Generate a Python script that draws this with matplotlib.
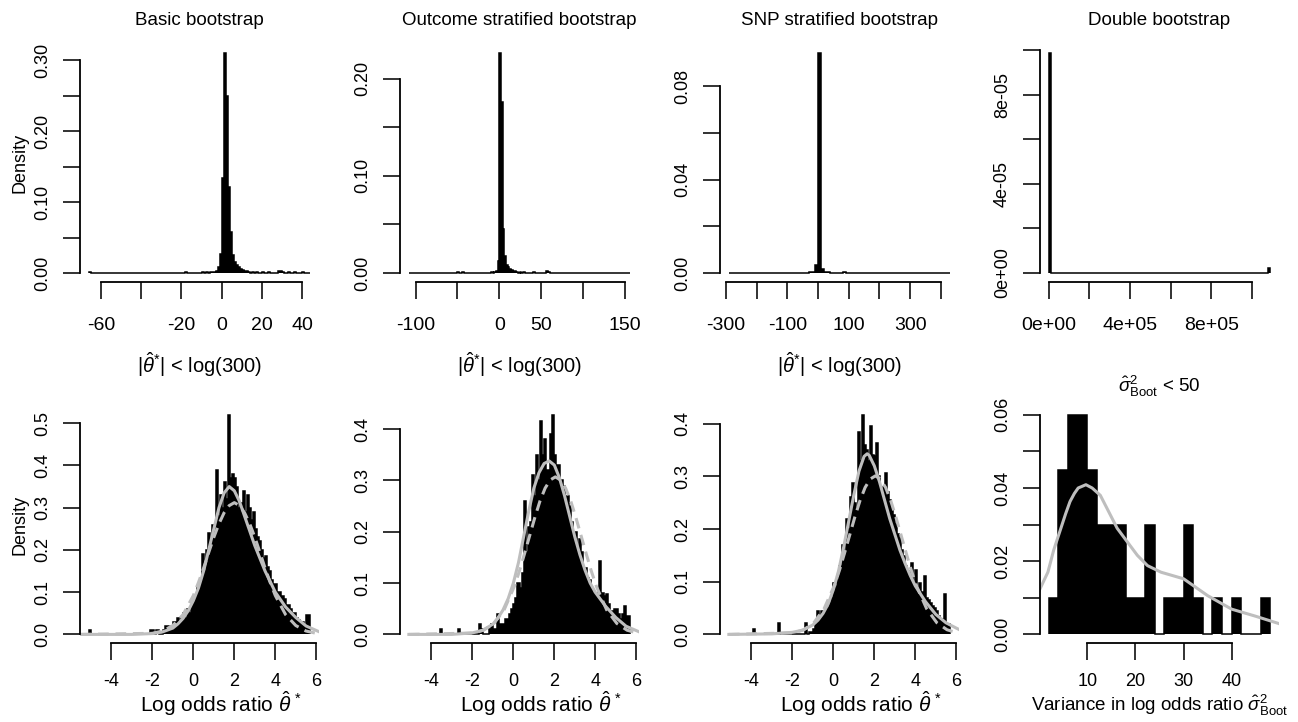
import numpy as np
import matplotlib
matplotlib.use('Agg')
import matplotlib.pyplot as plt

plt.rcParams['font.family'] = 'Liberation Sans'
plt.rcParams['mathtext.fontset'] = 'custom'
plt.rcParams['mathtext.rm'] = 'Liberation Sans'
plt.rcParams['mathtext.it'] = 'Liberation Sans:italic'
plt.rcParams['mathtext.bf'] = 'Liberation Sans:bold'

# ---------------- data ----------------
# top row: whole bootstrap distributions (density histograms)
basic_range = (-66, 44)
basic_width = 1
basic_start = -3
basic_dense = [0.003, 0.008, 0.027, 0.134, 0.31, 0.25, 0.122, 0.058, 0.025,
               0.015, 0.012, 0.008, 0.006, 0.004, 0.003, 0.003, 0.002]
basic_tail_lefts = [-66, -18, -10, -8, -6, -5, -4, 15, 17, 20, 23, 28, 29, 30, 33, 36, 40]
basic_tail_heights = [0.002, 0.002, 0.001, 0.001, 0.002, 0.001, 0.002, 0.002, 0.002,
                      0.001, 0.001, 0.003, 0.003, 0.002, 0.001, 0.002, 0.001]

outcome_range = (-108, 156)
outcome_width = 2
outcome_start = -6
outcome_dense = [0.001, 0.002, 0.012, 0.226, 0.176, 0.045, 0.017, 0.008, 0.006,
                 0.004, 0.003, 0.002, 0.002, 0.001]
outcome_tail_lefts = [-50, -44, -34, -20, -10, 24, 28, 40, 56, 58, 66]
outcome_tail_heights = [0.001, 0.001, 0.0005, 0.0005, 0.001, 0.001, 0.001, 0.001,
                        0.002, 0.001, 0.0005]

snp_range = (-290, 430)
snp_width = 10
snp_start = -30
snp_dense = [0.0003, 0.0005, 0.0036, 0.094, 0.0016, 0.0006, 0.0003, 0.0002]
snp_tail_lefts = [-70, 60, 80, 130]
snp_tail_heights = [0.0001, 0.0002, 0.0003, 0.0001]

double_range = (0, 1.09e6)
double_width = 1e4
double_start = 0
double_dense = [9.86e-5]
double_tail_lefts = [1.08e6]
double_tail_heights = [2.2e-6]

# bottom row: truncated distributions, bins of 0.1 on (-5.1, 5.7)
trunc_range = (-5.1, 5.7)
trunc_width = 0.1

basic_t_start = -2.1
basic_t_dense = [0.01, 0.01, 0.0, 0.01, 0.0, 0.0, 0.01, 0.02, 0.02, 0.01,
                 0.02, 0.03, 0.03, 0.04, 0.03, 0.04, 0.05, 0.04, 0.06, 0.05,
                 0.07, 0.08, 0.09, 0.11, 0.13, 0.19, 0.15, 0.20, 0.24, 0.22,
                 0.26, 0.25, 0.39, 0.28, 0.33, 0.30, 0.36, 0.32, 0.52, 0.37,
                 0.38, 0.37, 0.35, 0.30, 0.31, 0.34, 0.29, 0.33, 0.30, 0.27,
                 0.29, 0.25, 0.23, 0.22, 0.20, 0.18, 0.185, 0.16, 0.15, 0.13,
                 0.12, 0.12, 0.10, 0.10, 0.09, 0.085, 0.07, 0.07, 0.06, 0.05,
                 0.05, 0.04, 0.035, 0.03, 0.03, 0.02, 0.045, 0.045]
basic_t_tail_lefts = [-5.1]
basic_t_tail_heights = [0.01]

outcome_t_start = -2.0
outcome_t_dense = [0.0, 0.0, 0.0, 0.02, 0.01, 0.0, 0.0, 0.0, 0.01, 0.02,
                   0.01, 0.01, 0.04, 0.02, 0.02, 0.02, 0.03, 0.03, 0.04, 0.05,
                   0.06, 0.07, 0.10, 0.09, 0.12, 0.26, 0.16, 0.21, 0.22, 0.31,
                   0.27, 0.35, 0.30, 0.415, 0.35, 0.38, 0.32, 0.32, 0.39, 0.428,
                   0.35, 0.33, 0.33, 0.30, 0.29, 0.27, 0.27, 0.25, 0.22, 0.20,
                   0.20, 0.17, 0.185, 0.16, 0.13, 0.13, 0.11, 0.107, 0.09, 0.08,
                   0.08, 0.07, 0.143, 0.08, 0.075, 0.078, 0.06, 0.045, 0.045, 0.05,
                   0.05, 0.04, 0.03, 0.04, 0.055, 0.035, 0.035]
outcome_t_tail_lefts = [-3.6, -2.7]
outcome_t_tail_heights = [0.01, 0.01]

snp_t_start = -1.5
snp_t_dense = [0.0, 0.022, 0.0, 0.005, 0.005, 0.01, 0.02, 0.044, 0.03, 0.044,
               0.044, 0.05, 0.05, 0.06, 0.07, 0.098, 0.09, 0.104, 0.13, 0.17,
               0.15, 0.22, 0.20, 0.26, 0.288, 0.25, 0.24, 0.385, 0.33, 0.417,
               0.36, 0.35, 0.33, 0.395, 0.34, 0.338, 0.363, 0.30, 0.275, 0.28,
               0.306, 0.27, 0.256, 0.24, 0.227, 0.21, 0.19, 0.183, 0.16, 0.148,
               0.13, 0.12, 0.114, 0.136, 0.10, 0.123, 0.09, 0.098, 0.08, 0.11,
               0.07, 0.066, 0.06, 0.054, 0.05, 0.045, 0.035, 0.03, 0.03, 0.076,
               0.02, 0.02]
snp_t_tail_lefts = [-3.9, -2.7]
snp_t_tail_heights = [0.011, 0.022]

# smoothed densities (grey solid) and normal fits (grey dashed)
basic_kde_x = [-5.5, -3, -2, -1.5, -1, -0.75, -0.5, -0.25, 0, 0.25, 0.5, 0.75, 1.0,
               1.25, 1.5, 1.75, 2.0, 2.25, 2.5, 2.75, 3.0, 3.25, 3.5, 3.75, 4.0,
               4.5, 5.0, 5.5, 6.2]
basic_kde_y = [0.0, 0.0, 0.002, 0.006, 0.015, 0.025, 0.038, 0.056, 0.08, 0.11, 0.15,
               0.20, 0.25, 0.30, 0.335, 0.35, 0.34, 0.315, 0.28, 0.245, 0.21, 0.18,
               0.15, 0.125, 0.10, 0.065, 0.04, 0.02, 0.005]
basic_norm_x = [-5.5, -2.0, -1.5, -1.0, -0.5, 0.0, 0.25, 0.5, 0.75, 1.0, 1.25, 1.5,
                1.75, 2.0, 2.25, 2.5, 2.75, 3.0, 3.25, 3.5, 3.75, 4.0, 4.5, 5.0,
                5.5, 6.0, 6.5]
basic_norm_y = [0.0, 0.0026, 0.008, 0.021, 0.047, 0.092, 0.123, 0.157, 0.194, 0.230,
                0.262, 0.288, 0.305, 0.312, 0.305, 0.288, 0.262, 0.230, 0.194,
                0.157, 0.123, 0.092, 0.047, 0.021, 0.008, 0.0026, 0.0]

outcome_kde_x = [-5.1, -3, -2, -1.5, -1, -0.75, -0.5, -0.25, 0, 0.25, 0.5, 0.75, 1.0,
                 1.25, 1.5, 1.75, 2.0, 2.25, 2.5, 2.75, 3.0, 3.25, 3.5, 3.75, 4.0,
                 4.5, 5.0, 5.5, 6.2]
outcome_kde_y = [0.0, 0.0, 0.003, 0.008, 0.02, 0.032, 0.048, 0.07, 0.10, 0.14, 0.19,
                 0.24, 0.285, 0.315, 0.333, 0.338, 0.33, 0.305, 0.27, 0.23, 0.19,
                 0.155, 0.125, 0.10, 0.082, 0.055, 0.033, 0.016, 0.004]
outcome_norm_x = [-5.1, -1.95, -1.45, -0.95, -0.45, 0.05, 0.3, 0.55, 0.8, 1.05, 1.3,
                  1.55, 1.8, 2.05, 2.3, 2.55, 2.8, 3.05, 3.3, 3.55, 3.8, 4.05, 4.55,
                  5.05, 5.55, 6.05, 6.5]
outcome_norm_y = [0.0, 0.0027, 0.0082, 0.0214, 0.048, 0.094, 0.124, 0.158, 0.193,
                  0.228, 0.260, 0.285, 0.301, 0.307, 0.301, 0.285, 0.260, 0.228,
                  0.193, 0.158, 0.124, 0.094, 0.048, 0.0214, 0.0082, 0.0027, 0.0]

snp_kde_x = [-5.1, -3, -2, -1.5, -1, -0.75, -0.5, -0.25, 0, 0.25, 0.5, 0.75, 1.0,
             1.25, 1.5, 1.65, 1.75, 2.0, 2.25, 2.5, 2.75, 3.0, 3.25, 3.5, 3.75,
             4.0, 4.5, 5.0, 5.5, 6.2]
snp_kde_y = [0.0, 0.001, 0.004, 0.008, 0.018, 0.027, 0.04, 0.058, 0.085, 0.12, 0.165,
             0.215, 0.265, 0.31, 0.338, 0.343, 0.34, 0.32, 0.29, 0.255, 0.22, 0.19,
             0.16, 0.135, 0.112, 0.092, 0.062, 0.038, 0.022, 0.008]
snp_norm_x = [-5.1, -1.95, -1.45, -0.95, -0.45, 0.05, 0.3, 0.55, 0.8, 1.05, 1.3,
              1.55, 1.8, 2.05, 2.3, 2.55, 2.8, 3.05, 3.3, 3.55, 3.8, 4.05, 4.55,
              5.05, 5.55, 6.05, 6.5]
snp_norm_y = [0.0, 0.0030, 0.0088, 0.0222, 0.049, 0.093, 0.122, 0.155, 0.189,
              0.223, 0.254, 0.279, 0.295, 0.301, 0.295, 0.279, 0.254, 0.223,
              0.189, 0.155, 0.122, 0.093, 0.049, 0.0222, 0.0088, 0.0030, 0.0]

# double bootstrap variances below 50, bins of width 2
var_range = (2, 48)
var_width = 2
var_start = 2
var_dense = [0.01, 0.045, 0.06, 0.06, 0.045, 0.03, 0.03, 0.03, 0.01, 0.01, 0.03, 0.0,
             0.01, 0.01, 0.03, 0.01, 0.0, 0.01, 0.0, 0.01, 0.0, 0.0, 0.01]
var_kde_x = [0.0, 1.8, 3.0, 4.25, 5.5, 6.4, 7.3, 8.1, 9.7, 11.0, 12.7, 14.8, 16.2,
             18.3, 20.4, 22.5, 25.3, 30.0, 35.0, 40.0, 44.9, 50.2]
var_kde_y = [0.0120, 0.017, 0.023, 0.028, 0.033, 0.0363, 0.0385, 0.040, 0.0409,
             0.040, 0.038, 0.0326, 0.029, 0.0253, 0.0216, 0.0188, 0.017, 0.0152,
             0.0106, 0.0069, 0.005, 0.0028]

trunc_title = r'$|\hat{\theta}^{*}|$ < log(300)'
trunc_xlabel = r'Log odds ratio $\hat{\theta}^{\,*}$'
var_title = r'$\hat{\sigma}^{2}_{\mathrm{Boot}}$ < 50'
var_xlabel = r'Variance in log odds ratio $\hat{\sigma}^{2}_{\mathrm{Boot}}$'


def build_hist(rng, width, start, dense, tail_lefts=(), tail_heights=()):
    n = int(round((rng[1] - rng[0]) / width))
    edges = rng[0] + width * np.arange(n + 1)
    h = np.zeros(n)
    i0 = int(round((start - rng[0]) / width))
    h[i0:i0 + len(dense)] = dense
    for l, v in zip(tail_lefts, tail_heights):
        h[int(round((l - rng[0]) / width))] = v
    return edges, h


W, H = 1298, 722
fig = plt.figure(figsize=(W / 100, H / 100), dpi=100)
GREY = '#bebebe'


def panel(col, row):
    left = 80 + 320 * col
    top = 44.6 + 361.4 * row
    w, h = 239, 237.2
    return fig.add_axes([left / W, 1 - (top + h) / H, w / W, h / H])


def draw_hist(ax, edges, h):
    ax.stairs(h, edges, fill=True, color='black', lw=0)
    ax.stairs(h, edges, color='black', lw=1.1)
    lo, hi = edges[0], edges[-1]
    ymax = h.max()
    return (lo - 0.04 * (hi - lo), hi + 0.04 * (hi - lo)), (-0.04 * ymax, 1.04 * ymax)


def r_axes(ax, lims, xt, xl, yt, yl, xsize=13, xpad=14):
    ax.set_xticks(xt, xl)
    ax.set_yticks(yt, yl)
    ax.set_xlim(lims[0])
    ax.set_ylim(lims[1])
    ax.spines[['top', 'right']].set_visible(False)
    ax.spines['left'].set_bounds(yt[0], yt[-1])
    ax.spines['bottom'].set_bounds(xt[0], xt[-1])
    for s in ax.spines.values():
        s.set_linewidth(1.3)
    ax.tick_params(direction='out', length=12, width=1.3, color='#222222')
    ax.tick_params(axis='x', pad=xpad, labelsize=xsize)
    ax.tick_params(axis='y', pad=9, labelsize=13)
    plt.setp(ax.get_yticklabels(), rotation=90, va='center')
    ax.set_facecolor('none')


top_specs = [
    (basic_range, basic_width, basic_start, basic_dense, basic_tail_lefts, basic_tail_heights,
     [-60, -40, -20, 0, 20, 40], ['-60', '', '-20', '0', '20', '40'],
     [0, 0.05, 0.10, 0.15, 0.20, 0.25, 0.30], ['0.00', '', '0.10', '', '0.20', '', '0.30'],
     'Basic bootstrap'),
    (outcome_range, outcome_width, outcome_start, outcome_dense, outcome_tail_lefts, outcome_tail_heights,
     [-100, -50, 0, 50, 100, 150], ['-100', '', '0', '50', '', '150'],
     [0, 0.05, 0.10, 0.15, 0.20], ['0.00', '', '0.10', '', '0.20'],
     'Outcome stratified bootstrap'),
    (snp_range, snp_width, snp_start, snp_dense, snp_tail_lefts, snp_tail_heights,
     [-300, -200, -100, 0, 100, 200, 300, 400], ['-300', '', '-100', '', '100', '', '300', ''],
     [0, 0.02, 0.04, 0.06, 0.08], ['0.00', '', '0.04', '', '0.08'],
     'SNP stratified bootstrap'),
    (double_range, double_width, double_start, double_dense, double_tail_lefts, double_tail_heights,
     [0, 2e5, 4e5, 6e5, 8e5, 1e6], ['0e+00', '', '4e+05', '', '8e+05', ''],
     [0, 2e-5, 4e-5, 6e-5, 8e-5, 1e-4], ['0e+00', '', '4e-05', '', '8e-05', ''],
     'Double bootstrap'),
]

for i, (rng, wd, st, dn, tl, th, xt, xl, yt, yl, title) in enumerate(top_specs):
    ax = panel(i, 0)
    edges, h = build_hist(rng, wd, st, dn, tl, th)
    lims = draw_hist(ax, edges, h)
    r_axes(ax, lims, xt, xl, yt, yl, xsize=14, xpad=13)
    ax.set_title(title, fontsize=13.5, pad=14)

bottom_specs = [
    (basic_t_start, basic_t_dense, basic_t_tail_lefts, basic_t_tail_heights,
     basic_kde_x, basic_kde_y, basic_norm_x, basic_norm_y,
     [0, 0.1, 0.2, 0.3, 0.4, 0.5], ['0.0', '0.1', '0.2', '0.3', '0.4', '0.5']),
    (outcome_t_start, outcome_t_dense, outcome_t_tail_lefts, outcome_t_tail_heights,
     outcome_kde_x, outcome_kde_y, outcome_norm_x, outcome_norm_y,
     [0, 0.1, 0.2, 0.3, 0.4], ['0.0', '0.1', '0.2', '0.3', '0.4']),
    (snp_t_start, snp_t_dense, snp_t_tail_lefts, snp_t_tail_heights,
     snp_kde_x, snp_kde_y, snp_norm_x, snp_norm_y,
     [0, 0.1, 0.2, 0.3, 0.4], ['0.0', '0.1', '0.2', '0.3', '0.4']),
]

for i, (st, dn, tl, th, kx, ky, nx, ny, yt, yl) in enumerate(bottom_specs):
    ax = panel(i, 1)
    edges, h = build_hist(trunc_range, trunc_width, st, dn, tl, th)
    lims = draw_hist(ax, edges, h)
    ax.plot(nx, ny, color=GREY, lw=2.2, dashes=(3.5, 2.2))
    ax.plot(kx, ky, color=GREY, lw=2.2)
    r_axes(ax, lims, [-4, -2, 0, 2, 4, 6], ['-4', '-2', '0', '2', '4', '6'], yt, yl,
           xsize=13, xpad=9.5)
    ax.set_title(trunc_title, fontsize=14.5, pad=24)
    fig.text((221 + 320 * i) / W, 1 - 712 / H, trunc_xlabel, fontsize=15,
             ha='center', va='baseline')

ax = panel(3, 1)
edges, h = build_hist(var_range, var_width, var_start, var_dense)
lims = draw_hist(ax, edges, h)
ax.plot(var_kde_x, var_kde_y, color=GREY, lw=2.2)
r_axes(ax, lims, [10, 20, 30, 40], ['10', '20', '30', '40'],
       [0, 0.01, 0.02, 0.03, 0.04, 0.05, 0.06], ['0.00', '', '0.02', '', '0.04', '', '0.06'],
       xsize=13, xpad=9.5)
ax.set_title(var_title, fontsize=13.5, pad=10)
fig.text(1160 / W, 1 - 711 / H, var_xlabel, fontsize=13.5, ha='center', va='baseline')

fig.text(20 / W, 1 - 163 / H, 'Density', rotation=90, fontsize=13, ha='center', va='center')
fig.text(20 / W, 1 - 525 / H, 'Density', rotation=90, fontsize=13, ha='center', va='center')

fig.savefig('out.png', dpi=100, facecolor='white')
